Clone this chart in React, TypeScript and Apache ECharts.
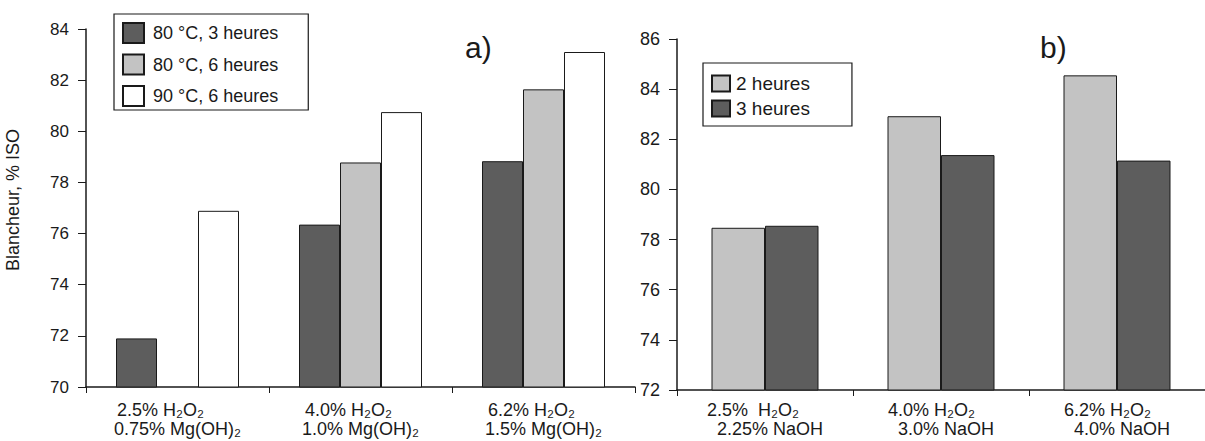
import React, { useEffect, useRef } from "react";
import * as echarts from "echarts";

const catsA = ["2.5% H₂O₂\n0.75% Mg(OH)₂", "4.0% H₂O₂\n1.0% Mg(OH)₂", "6.2% H₂O₂\n1.5% Mg(OH)₂"];
const catsB = ["2.5%  H₂O₂\n2.25% NaOH", "4.0% H₂O₂\n3.0% NaOH", "6.2% H₂O₂\n4.0% NaOH"];

const namesA = ["80 °C, 3 heures", "80 °C, 6 heures", "90 °C, 6 heures"];
const a80_3h = [71.9, 76.35, 78.83];
const a80_6h = [null, 78.78, 81.64];
const a90_6h = [76.89, 80.75, 83.1];

const namesB = ["2 heures", "3 heures"];
const b2h = [78.47, 82.92, 84.55];
const b3h = [78.55, 81.37, 81.15];

const yTitle = "Blancheur, % ISO";
const panelA = "a)";
const panelB = "b)";

const DARK = "#5d5d5d";
const LIGHT = "#c3c3c3";
const WHITE = "#ffffff";
const INK = "#1a1a1a";
const FONT = "Liberation Sans, Arial, sans-serif";

export default function App() {
  const ref = useRef<HTMLDivElement>(null);
  useEffect(() => {
    if (!ref.current) return;
    const chart = echarts.init(ref.current, null, { renderer: "svg" });
    const axisLine = { show: true, lineStyle: { color: INK, width: 1.5 } };
    const bar = (name: string, data: any[], color: string, xi: number, bw: number) => ({
      type: "bar",
      name,
      data,
      xAxisIndex: xi,
      yAxisIndex: xi,
      barWidth: bw,
      barGap: "0%",
      itemStyle: { color, borderColor: INK, borderWidth: 1 },
    });
    const splitLabel = (v: string) => {
      const [l1, l2] = v.split("\n");
      return `{a|${l1}}\n{b|${l2}}`;
    };
    chart.setOption({
      animation: false,
      backgroundColor: "#ffffff",
      textStyle: { fontFamily: FONT },
      grid: [
        { left: 86, top: 29, width: 549, height: 358 },
        { left: 677, top: 39, width: 552, height: 351 },
      ],
      xAxis: [
        {
          type: "category",
          gridIndex: 0,
          data: catsA,
          axisLine,
          axisTick: { show: true, length: 6, lineStyle: { color: INK } },
          axisLabel: {
            margin: 13,
            formatter: splitLabel,
            rich: {
              a: { fontSize: 18, lineHeight: 19, color: INK, align: "left", padding: [0, 0, 0, 3], fontFamily: FONT },
              b: { fontSize: 18, lineHeight: 19, color: INK, align: "left", fontFamily: FONT },
            },
          },
        },
        {
          type: "category",
          gridIndex: 1,
          data: catsB,
          axisLine,
          axisTick: { show: true, length: 6, lineStyle: { color: INK } },
          axisLabel: {
            margin: 10,
            formatter: splitLabel,
            rich: {
              a: { fontSize: 18, lineHeight: 19, color: INK, align: "left", fontFamily: FONT },
              b: { fontSize: 18, lineHeight: 19, color: INK, align: "left", padding: [0, 0, 0, 10], fontFamily: FONT },
            },
          },
        },
      ],
      yAxis: [
        {
          type: "value",
          gridIndex: 0,
          min: 70,
          max: 84,
          interval: 2,
          axisLine,
          axisTick: { show: true, length: 8, lineStyle: { color: INK } },
          splitLine: { show: false },
          axisLabel: { fontSize: 17, color: INK, margin: 17, fontFamily: FONT },
        },
        {
          type: "value",
          gridIndex: 1,
          min: 72,
          max: 86,
          interval: 2,
          axisLine,
          axisTick: { show: true, length: 8, lineStyle: { color: INK } },
          splitLine: { show: false },
          axisLabel: { fontSize: 18, color: INK, margin: 17, fontFamily: FONT },
        },
      ],
      legend: [
        {
          data: namesA,
          orient: "vertical",
          left: 114,
          top: 14,
          padding: [8, 30, 3, 8],
          itemGap: 9.5,
          itemWidth: 21,
          itemHeight: 20,
          icon: "rect",
          borderColor: INK,
          borderWidth: 1.2,
          textStyle: { fontSize: 18, color: INK, padding: [0, 0, 0, 4], fontFamily: FONT },
        },
        {
          data: namesB,
          orient: "vertical",
          left: 703,
          top: 63,
          padding: [11, 42, 8, 8],
          itemGap: 6,
          itemWidth: 18,
          itemHeight: 16,
          icon: "rect",
          borderColor: INK,
          borderWidth: 1.2,
          textStyle: { fontSize: 19, color: INK, padding: [0, 0, 0, 1], fontFamily: FONT },
        },
      ],
      series: [
        bar(namesA[0], a80_3h, DARK, 0, 41),
        bar(namesA[1], a80_6h, LIGHT, 0, 41),
        bar(namesA[2], a90_6h, WHITE, 0, 41),
        bar(namesB[0], b2h, LIGHT, 1, 53.5),
        bar(namesB[1], b3h, DARK, 1, 53.5),
      ],
      graphic: [
        {
          type: "text",
          x: 465,
          y: 47,
          style: { text: panelA, fontSize: 30, fill: INK, textVerticalAlign: "middle", fontFamily: FONT },
        },
        {
          type: "text",
          x: 1040,
          y: 47,
          style: { text: panelB, fontSize: 30, fill: INK, textVerticalAlign: "middle", fontFamily: FONT },
        },
        {
          type: "text",
          x: 22,
          y: 200,
          rotation: Math.PI / 2,
          style: {
            text: yTitle,
            fontSize: 18,
            fill: INK,
            textAlign: "center",
            textVerticalAlign: "bottom",
            fontFamily: FONT,
          },
        },
      ],
    });
    return () => chart.dispose();
  }, []);
  return (
    <div
      ref={ref}
      style={{ position: "absolute", left: 0, top: 0, width: 1205, height: 441 }}
    />
  );
}
